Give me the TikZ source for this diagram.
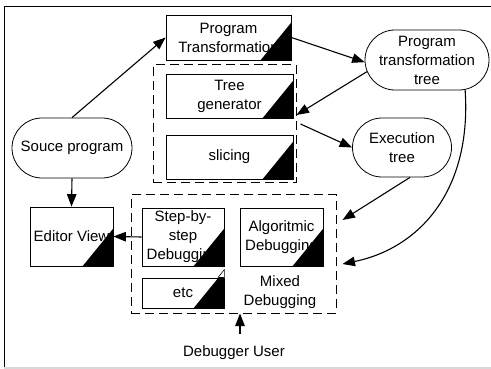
\documentclass[tikz,border=0pt]{standalone}
\usepackage{fontspec}
\setmainfont{Liberation Sans}
\usetikzlibrary{arrows.meta,shapes.misc,calc}
\begin{document}
\begin{tikzpicture}[x=1pt,y=-1pt,
  every node/.style={font=\fontsize{15}{19}\selectfont},
  box/.style={draw=black, line width=0.8pt, rectangle, inner sep=0pt, align=center},
  pill/.style={draw=black, line width=0.8pt, rounded rectangle, inner sep=0pt, align=center},
  grp/.style={draw=black, line width=1pt, dash pattern=on 9pt off 5pt, rectangle, inner sep=0pt},
  arr/.style={line width=1.1pt, -{Triangle[length=12.5pt,width=9.5pt]}},
  corner/.style={fill=black},
]
\useasboundingbox (0,0) rectangle (491,369);
\fill[white] (0,0) rectangle (491,369);
\draw[line width=1pt] (4,367) -- (4,7) -- (491,7);
\draw[gray!30, line width=2pt] (4,368) -- (491,368);

% boxes
\node[box, minimum width=125pt, minimum height=45pt] (pt) at (228.5,37.5) {Program\\Transformation};
\node[box, minimum width=127pt, minimum height=44pt] (tree) at (229.5,96) {Tree\\generator};
\node[box, minimum width=127pt, minimum height=44pt] (slice) at (229.5,157) {slicing};
\node[box, minimum width=83pt, minimum height=59pt] (editor) at (71.5,236.5) {Editor View};
\node[box, minimum width=82pt, minimum height=58pt] (step) at (183,237) {Step-by-\\step\\Debugging};
\node[box, minimum width=82pt, minimum height=30pt] (etc) at (183,293) {etc};
\node[box, minimum width=83pt, minimum height=58pt] (algo) at (281.5,237) {Algoritmic\\Debugging};

% groups
\node[grp, minimum width=143pt, minimum height=118pt] (g1) at (224.5,124) {};
\node[grp, minimum width=205pt, minimum height=118pt] (g2) at (233.5,254) {};
\node[align=center] (mixed) at (280,292) {Mixed\\Debugging};

% pills
\node[pill, minimum width=120pt, minimum height=60pt] (src) at (72,148) {Souce program};
\node[pill, minimum width=124pt, minimum height=60pt] (ptt) at (427,60) {Program\\transformation\\tree};
\node[pill, minimum width=99pt, minimum height=59pt] (exec) at (402,147.5) {Execution\\tree};

\node[inner sep=0pt] (user) at (234,353) {Debugger User};

% black corner triangles
\foreach \n in {pt,tree,slice,editor,step,algo}
  \fill[corner] (\n.south east) -- ++(-31,0) -- ++(31,-38) -- cycle;
\begin{scope}
  \clip (etc.south west) rectangle (etc.north east);
  \fill[corner] (etc.south east) -- ++(-31,0) -- ++(31,-38) -- cycle;
\end{scope}
\draw[line width=0.6pt] (etc.north east) -- ++(0,-8) -- ++(-6.5,8);

% connectors
\draw[arr] (src.north) -- (pt.west);
\draw[arr] (pt.east) -- (ptt.182);
\draw[arr] (ptt.191) -- ([yshift=9pt]g1.east);
\draw[arr] ([xshift=4pt]g1.east) -- (exec.west);
\draw[arr] (exec.-75) -- ([xshift=6pt,yshift=34pt]g2.east);
\draw[arr] (ptt.-38) .. controls (472,190) and (420,248) .. ([xshift=6pt,yshift=-10pt]g2.east);
\draw[arr] (src.south) -- (editor.north);
\draw[arr] (step.west) -- (editor.east);
\draw[arr] ([xshift=6pt,yshift=12pt]user.north) -- ([xshift=6.5pt]g2.south);
\end{tikzpicture}
\end{document}
